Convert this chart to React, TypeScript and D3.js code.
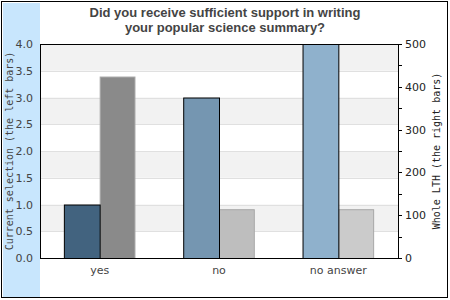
import React from "react";
import * as d3 from "d3";

const categories = ["yes", "no", "no answer"];
const currentValues = [1.0, 3.0, 4.0];
const lthValues = [424, 114, 114];
const currentColors = ["#42637f", "#7596b1", "#8fb1cc"];
const lthColors = ["#8a8a8a", "#bebebe", "#cbcbcb"];
const leftTicks = [0, 0.5, 1.0, 1.5, 2.0, 2.5, 3.0, 3.5, 4.0];
const rightTicks = [0, 100, 200, 300, 400, 500];
const rightMinorTicks = [0, 50, 100, 150, 200, 250, 300, 350, 400, 450, 500];
const titleLines = ["Did you receive sufficient support in writing", "your popular science summary?"];
const leftLabel = "Current selection (the left bars)";
const rightLabel = "Whole LTH (the right bars)";

export default function App() {
  const W = 450, H = 300;
  const pl = 40, pr = 398, pt = 44, pb = 258;
  const x = d3.scaleBand<string>().domain(categories).range([pl, pr]).paddingInner(0.4).paddingOuter(0.2);
  const yL = d3.scaleLinear().domain([0, 4]).range([pb, pt]);
  const yR = d3.scaleLinear().domain([0, 500]).range([pb, pt]);
  const bw = x.bandwidth() / 2;
  const bands = d3.range(0, leftTicks.length - 1).filter((i) => i % 2 === 1);
  const font = "DejaVu Sans, sans-serif";
  const mono = "DejaVu Sans Mono, monospace";
  const midY = (pt + pb) / 2;
  return (
    <svg width={W} height={H} style={{ position: "absolute", left: 0, top: 0 }}>
      <rect x={0} y={0} width={W} height={H} fill="#fff" />
      <rect x={1.5} y={1.5} width={446} height={296} fill="#fff" stroke="#000" strokeWidth={1} />
      <rect x={3} y={3} width={pl - 3} height={294} fill="#c8e6fd" />
      {bands.map((i) => (
        <rect key={i} x={pl} y={yL(leftTicks[i + 1])} width={pr - pl} height={yL(leftTicks[i]) - yL(leftTicks[i + 1])} fill="#f2f2f2" />
      ))}
      {leftTicks.map((t) => (
        <line key={t} x1={pl} x2={pr} y1={Math.round(yL(t)) + 0.5} y2={Math.round(yL(t)) + 0.5} stroke="#e0e0e0" />
      ))}
      {categories.map((c, i) => (
        <g key={c}>
          <rect x={(x(c) as number) + bw + 0.5} y={yR(lthValues[i]) + 0.5} width={bw - 1} height={pb - yR(lthValues[i])} fill={lthColors[i]} stroke="#a8a8a8" strokeWidth={1} />
          <rect x={(x(c) as number) + 0.5} y={yL(currentValues[i]) + 0.5} width={bw} height={pb - yL(currentValues[i])} fill={currentColors[i]} stroke="#000" strokeWidth={1} />
        </g>
      ))}
      <rect x={pl + 0.5} y={pt + 0.5} width={pr - pl} height={pb - pt} fill="none" stroke="#000" strokeWidth={1} />
      {rightMinorTicks.map((t) => (
        <line key={t} x1={pr} x2={pr + 4} y1={Math.round(yR(t)) + 0.5} y2={Math.round(yR(t)) + 0.5} stroke="#000" />
      ))}
      {leftTicks.map((t) => (
        <text key={t} x={33} y={yL(t) + 4} textAnchor="end" fontFamily={font} fontSize={11} fill="#444">
          {d3.format(".1f")(t)}
        </text>
      ))}
      {rightTicks.map((t) => (
        <text key={t} x={405} y={yR(t) + 4} textAnchor="start" fontFamily={font} fontSize={11} fill="#222">
          {t}
        </text>
      ))}
      {categories.map((c) => (
        <text key={c} x={(x(c) as number) + x.bandwidth() / 2} y={274} textAnchor="middle" fontFamily={font} fontSize={11} fill="#444">
          {c}
        </text>
      ))}
      {titleLines.map((l, i) => (
        <text key={i} x={225} y={17 + i * 15} textAnchor="middle" fontFamily="Liberation Sans, Arial, sans-serif" fontWeight="bold" fontSize={13} fill="#444">
          {l}
        </text>
      ))}
      <text transform={`translate(13,${midY}) rotate(-90)`} textAnchor="middle" fontFamily={mono} fontSize={10} fill="#444">
        {leftLabel}
      </text>
      <text transform={`translate(440,${midY}) rotate(-90)`} textAnchor="middle" fontFamily={mono} fontSize={10} fill="#222">
        {rightLabel}
      </text>
    </svg>
  );
}
